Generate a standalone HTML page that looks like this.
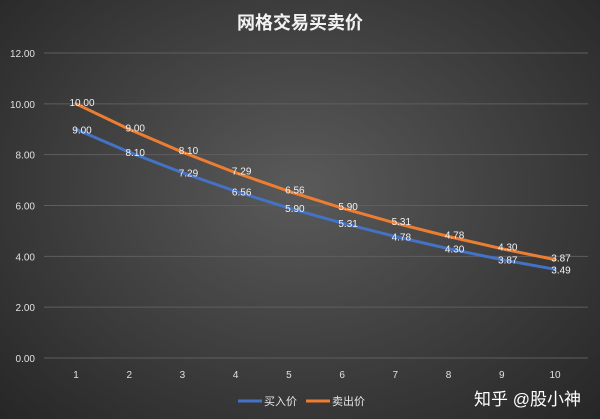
<!DOCTYPE html>
<html><head><meta charset="utf-8"><style>
html,body{margin:0;padding:0;}
body{width:600px;height:419px;overflow:hidden;background:radial-gradient(ellipse at 50% 45%,#5a5a5a 0%,#404040 50%,#262626 100%);font-family:"Liberation Sans","Noto Sans CJK SC",sans-serif;}
</style></head><body>
<svg id="chart" width="600" height="419" xmlns="http://www.w3.org/2000/svg" style="position:absolute;left:0;top:0">
<text x="300" y="29" text-anchor="middle" fill="#f2f2f2" font-size="18" font-weight="bold" font-family="Liberation Sans, Noto Sans CJK SC, sans-serif">网格交易买卖价</text>
<g id="grid"></g><g id="series"></g><g id="labels"></g>
<g>
<line x1="238" y1="401" x2="262" y2="401" stroke="#4472c4" stroke-width="3"/>
<text x="264" y="405" fill="#e6e6e6" font-size="11" font-family="Liberation Sans, Noto Sans CJK SC, sans-serif">买入价</text>
<line x1="306" y1="401" x2="330" y2="401" stroke="#ed7d31" stroke-width="3"/>
<text x="332" y="405" fill="#e6e6e6" font-size="11" font-family="Liberation Sans, Noto Sans CJK SC, sans-serif">卖出价</text>
</g>
<text x="474" y="405" fill="#ffffff" font-size="17" font-family="Liberation Sans, Noto Sans CJK SC, sans-serif">知乎 @股小神</text>
</svg>
<script>
const categories=[1,2,3,4,5,6,7,8,9,10];
const buyValues=[9.00,8.10,7.29,6.56,5.90,5.31,4.78,4.30,3.87,3.49];
const sellValues=[10.00,9.00,8.10,7.29,6.56,5.90,5.31,4.78,4.30,3.87];
const yTicks=[0,2,4,6,8,10,12];
const NS='http://www.w3.org/2000/svg';
const F='Liberation Sans, Noto Sans CJK SC, sans-serif';
function xs(i){return 76+(555-76)*i/(categories.length-1);}
function ys(v){return 358-(358-53)*v/12;}
function mk(t,a,p){const e=document.createElementNS(NS,t);for(const k in a)e.setAttribute(k,a[k]);p.appendChild(e);return e;}
const grid=document.getElementById('grid');
yTicks.forEach(v=>{
 const l=mk('line',{x1:44,x2:588,y1:ys(v),y2:ys(v),stroke:'#5e5e5e','stroke-width':1},grid);
 
 
 const t=mk('text',{x:35,y:ys(v)+4,'text-anchor':'end',fill:'#e0e0e0','font-size':10,'font-family':F},grid);
 t.textContent=v.toFixed(2);
 
 
});
categories.forEach((c,i)=>{
 const t=mk('text',{x:xs(i),y:378,'text-anchor':'middle',fill:'#e0e0e0','font-size':10,'font-family':F},grid);
 t.textContent=c;
 
 
});
const series=document.getElementById('series'),labels=document.getElementById('labels');
function draw(vals,color,name,dy){
 const p=mk('path',{d:vals.map((v,i)=>(i?'L':'M')+xs(i)+' '+ys(v)).join(' '),fill:'none',stroke:color,'stroke-width':3,'stroke-linejoin':'round','stroke-linecap':'round'},series);
 
 
 vals.forEach((v,i)=>{
  const t=mk('text',{x:xs(i)+6,y:ys(v)+dy,'text-anchor':'middle',fill:'#f2f2f2','font-size':10,'font-family':F},labels);
  t.textContent=v.toFixed(2);
  
  
 });
}
draw(buyValues,'#4472c4','buy',4);
draw(sellValues,'#ed7d31','sell',2);
</script>
</body></html>
